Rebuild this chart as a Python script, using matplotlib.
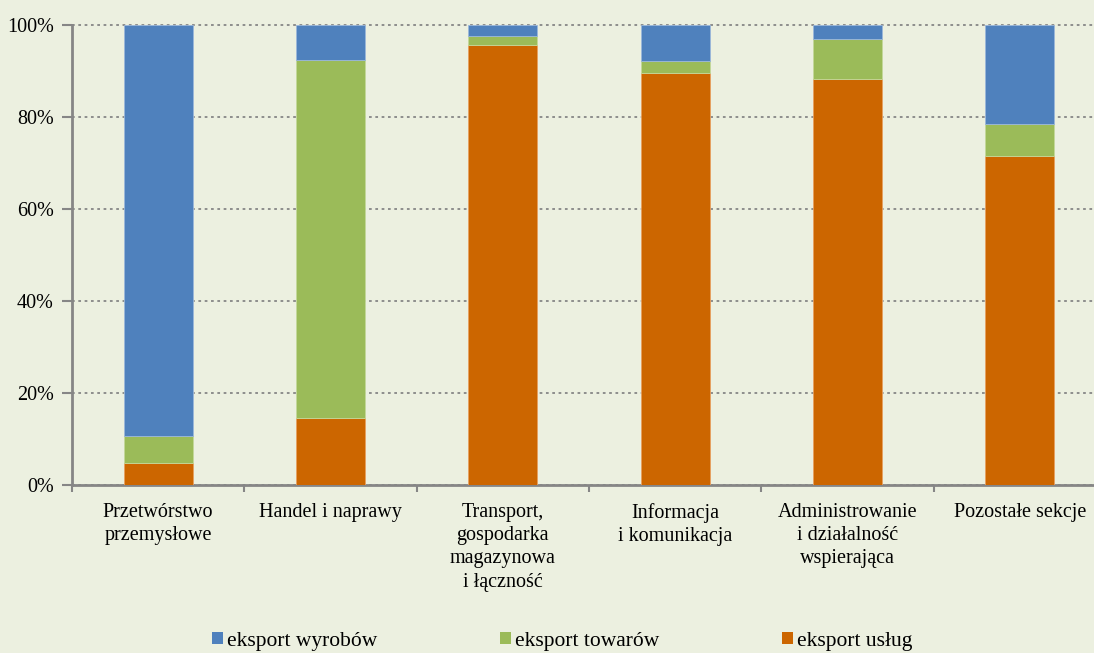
from matplotlib import pyplot as plt
from matplotlib.patches import Patch
import numpy as np

# data (shares in %)
categories = ['Przetwórstwo\nprzemysłowe', 'Handel i naprawy',
              'Transport,\ngospodarka\nmagazynowa\ni łączność',
              'Informacja\ni komunikacja',
              'Administrowanie\ni działalność\nwspierająca',
              'Pozostałe sekcje']
uslugi = [4.8, 14.6, 95.6, 89.6, 88.3, 71.6]
towary = [5.9, 77.7, 2.0, 2.6, 8.7, 6.8]
wyroby = [89.3, 7.7, 2.4, 7.8, 3.0, 21.6]
series_names = ['eksport wyrobów', 'eksport towarów', 'eksport usług']
yticks = [0, 20, 40, 60, 80, 100]

bg = '#ECF0E0'
c_blue = '#4F81BD'
c_green = '#9BBB59'
c_orange = '#CC6600'
axcol = '#868686'

plt.rcParams['font.family'] = ['Liberation Serif', 'DejaVu Serif']
plt.rcParams['font.size'] = 14.5

fig = plt.figure(figsize=(10.94, 6.53), dpi=100, facecolor=bg)
ax = fig.add_axes((72/1094, 168/653, 1034/1094, 460/653), facecolor=bg)

x = np.arange(len(categories))
w = 0.4
uslugi = np.array(uslugi)
towary = np.array(towary)
wyroby = np.array(wyroby)
ax.bar(x, uslugi, w, color=c_orange, edgecolor='#E8A060', linewidth=0.6, zorder=3)
ax.bar(x, towary, w, bottom=uslugi, color=c_green, edgecolor='#C4D89A', linewidth=0.6, zorder=3)
ax.bar(x, wyroby, w, bottom=uslugi + towary, color=c_blue, edgecolor='#9BB7DA', linewidth=0.6, zorder=3)

ax.set_xlim(-0.5, len(categories) - 0.5)
ax.set_ylim(0, 100)
ax.set_yticks(yticks)
ax.set_yticklabels([f'{v}%' for v in yticks])
ax.yaxis.grid(True, linestyle=(0, (1.5, 2)), color=axcol, linewidth=1.3, zorder=1)
for gl in ax.get_ygridlines():
    gl.set_clip_on(False)

ax.set_xticks(x)
ax.set_xticklabels(categories, linespacing=1.3)
ax.set_xticks(np.arange(-0.5, len(categories)), minor=True)
ax.tick_params(axis='x', which='major', length=0, pad=13)
ax.tick_params(axis='x', which='minor', length=5, width=1.5, color=axcol, direction='out')
ax.tick_params(axis='y', length=7, width=1.5, color=axcol, pad=6)

for s in ['top', 'right']:
    ax.spines[s].set_visible(False)
for s in ['left', 'bottom']:
    ax.spines[s].set_color(axcol)
    ax.spines[s].set_linewidth(2)

handles = [Patch(facecolor=c, edgecolor='none') for c in [c_blue, c_green, c_orange]]
fig.legend(handles, series_names, loc='center', bbox_to_anchor=(0.514, 0.018),
           ncol=3, frameon=False, handlelength=0.5, handleheight=0.5,
           handletextpad=0.19, columnspacing=5.7, fontsize=15.5)

fig.savefig('out.png', dpi=100, facecolor=bg)
